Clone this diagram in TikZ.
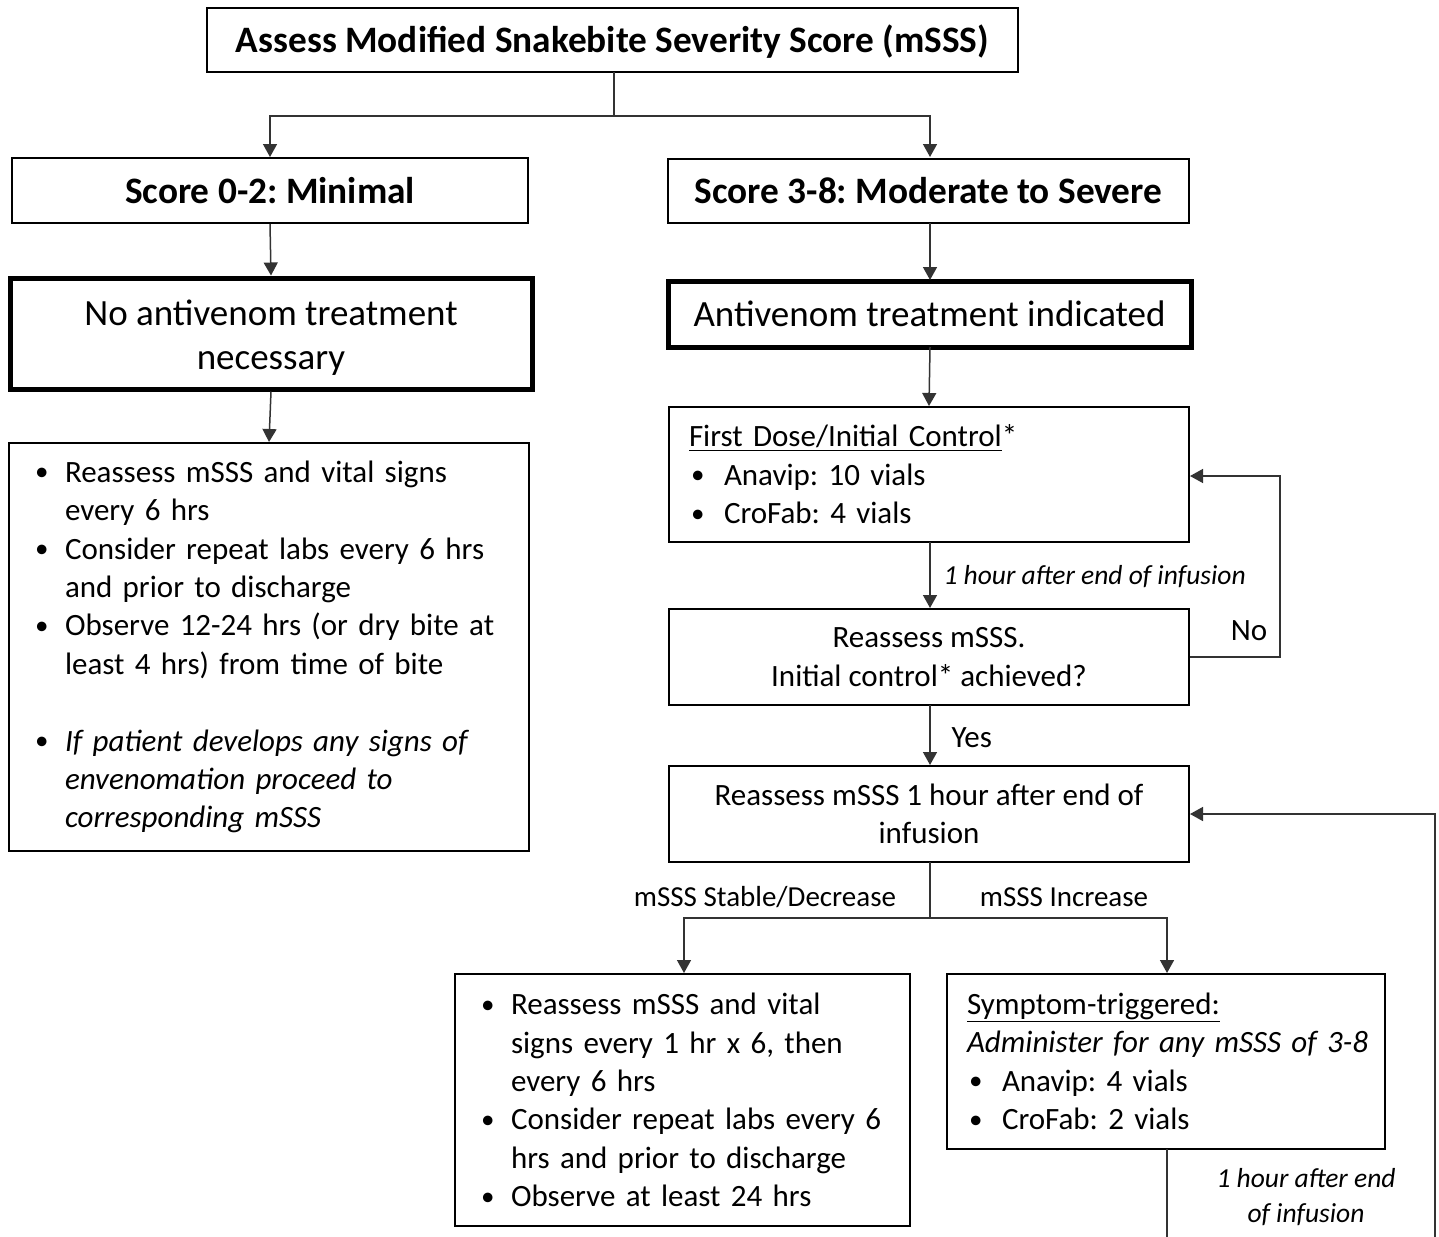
\documentclass[tikz,border=0pt]{standalone}
\usepackage{fontspec}
\setmainfont{Carlito}
\usetikzlibrary{arrows.meta}
\tikzset{
  box/.style={draw=black, line width=2pt, inner sep=0pt, align=center, fill=white},
  heavybox/.style={box, line width=5pt},
  headfont/.style={font=\fontsize{37.3}{44}\selectfont\bfseries\frenchspacing},
  bigfont/.style={font=\fontsize{37}{44}\selectfont\frenchspacing},
  bodyfont/.style={font=\fontsize{31}{38.4}\selectfont\frenchspacing},
  lblfont/.style={font=\fontsize{29}{35}\selectfont\frenchspacing},
  itlfont/.style={font=\fontsize{27.5}{35}\selectfont\itshape\frenchspacing},
  conn/.style={draw=black!80, line width=1.5pt},
  arr/.style={conn, -{Triangle[length=13pt,width=14pt]}},
}
\newcommand{\bul}[1]{\makebox[#1][l]{\hspace{2pt}\raisebox{1.5pt}{\fontsize{27}{27}\selectfont\textbullet}}}
\newcommand{\myul}[1]{\underline{#1}}
\begin{document}
\begin{tikzpicture}[x=1pt,y=-1pt]
\useasboundingbox[fill=white] (0,0) rectangle (1439,1236);

% boxes
\node[box, headfont, minimum width=811pt, minimum height=64pt, text height=27pt, text depth=1pt] (top) at (612.5,40) {Assess Modified Snakebite Severity Score (mSSS)};
\node[box, headfont, minimum width=516pt, minimum height=65pt] (s02) at (270,190.5) {Score 0-2: Minimal};
\node[box, headfont, minimum width=521pt, minimum height=64pt] (s38) at (928.5,191) {Score 3-8: Moderate to Severe};
\node[heavybox, bigfont, minimum width=522pt, minimum height=111pt] (noav) at (271,333.5) {\rule{0pt}{34pt}No antivenom treatment\\necessary};
\node[heavybox, bigfont, minimum width=523pt, minimum height=66pt] (avind) at (929.5,314) {Antivenom treatment indicated};

\node[box, bodyfont, align=left, minimum width=520pt, minimum height=408pt, text width=472pt, inner xsep=24pt] (left) at (269,647) {%
\bul{32pt}Reassess mSSS and vital signs\\
\hspace*{32pt}every 6 hrs\\
\bul{32pt}Consider repeat labs every 6 hrs\\
\hspace*{32pt}and prior to discharge\\
\bul{32pt}Observe 12-24 hrs (or dry bite at\\
\hspace*{32pt}least 4 hrs) from time of bite\\[38.4pt]
\bul{32pt}\textit{If patient develops any signs of}\\
\hspace*{32pt}\textit{envenomation proceed to}\\
\hspace*{32pt}\textit{corresponding mSSS}};

\node[box, bodyfont, align=left, minimum width=520pt, minimum height=135pt, text width=480pt, inner xsep=20pt] (fd) at (929,474.5) {%
\myul{First Dose/Initial Control}*\\
\bul{35pt}Anavip: 10 vials\\
\bul{35pt}CroFab: 4 vials};

\node[box, bodyfont, minimum width=520pt, minimum height=96pt] (re) at (929,657) {Reassess mSSS.\\Initial control* achieved?};
\node[box, bodyfont, minimum width=520pt, minimum height=96pt] (r1) at (929,814) {Reassess mSSS 1 hour after end of\\infusion};

\node[box, bodyfont, align=left, minimum width=455pt, minimum height=252pt, text width=407pt, inner xsep=24pt] (bl) at (682.5,1100) {%
\bul{32pt}Reassess mSSS and vital\\
\hspace*{32pt}signs every 1 hr x 6, then\\
\hspace*{32pt}every 6 hrs\\
\bul{32pt}Consider repeat labs every 6\\
\hspace*{32pt}hrs and prior to discharge\\
\bul{32pt}Observe at least 24 hrs};

\node[box, bodyfont, align=left, minimum width=438pt, minimum height=175pt, text width=398pt, inner xsep=20pt] (st) at (1166,1061.5) {%
\myul{Symptom-triggered:}\\
\mbox{\textit{Administer for any mSSS of 3-8}}\\
\bul{35pt}Anavip: 4 vials\\
\bul{35pt}CroFab: 2 vials};

% connectors
\coordinate (split1) at (614,116);
\draw[conn] (614,72) -- (split1);
\draw[arr] (split1) -| (s02.north);
\draw[arr] (split1) -| (930,157);
\draw[arr] (s02.south) -- (noav.north);
\draw[arr] (noav.south) -- (left.north);
\draw[arr] (930,223) -- (930,280);
\draw[arr] (930,347) -- (fd.north);
\draw[arr] (930,542) -- (930,608);
\node[itlfont, anchor=west] (lab1) at (940,577) {1 hour after end of infusion};
\coordinate (nocorner) at (1280,657);
\draw[arr] (re.east) -- (nocorner) |- (1190,476);
\node[font=\fontsize{31}{36}\selectfont] (labno) at (1249,631) {No};
\draw[arr] (930,705) -- (930,765);
\node[font=\fontsize{31}{36}\selectfont, anchor=west] (labyes) at (948,738) {Yes};
\coordinate (split2) at (930,918);
\draw[conn] (930,862) -- (split2);
\draw[arr] (split2) -| (684,973);
\draw[arr] (split2) -| (1167,973);
\node[lblfont] (labst) at (765,897) {mSSS Stable/Decrease};
\node[lblfont] (labinc) at (1064,897) {mSSS Increase};
\coordinate (b1) at (1167,1237);
\coordinate (b2) at (1435,1237);
\draw[conn] (1167,1149) -- (b1);
\draw[arr] (b2) |- (r1.east);
\node[itlfont, align=center] (lab2) at (1306,1197) {1 hour after end\\of infusion};
\end{tikzpicture}
\end{document}
